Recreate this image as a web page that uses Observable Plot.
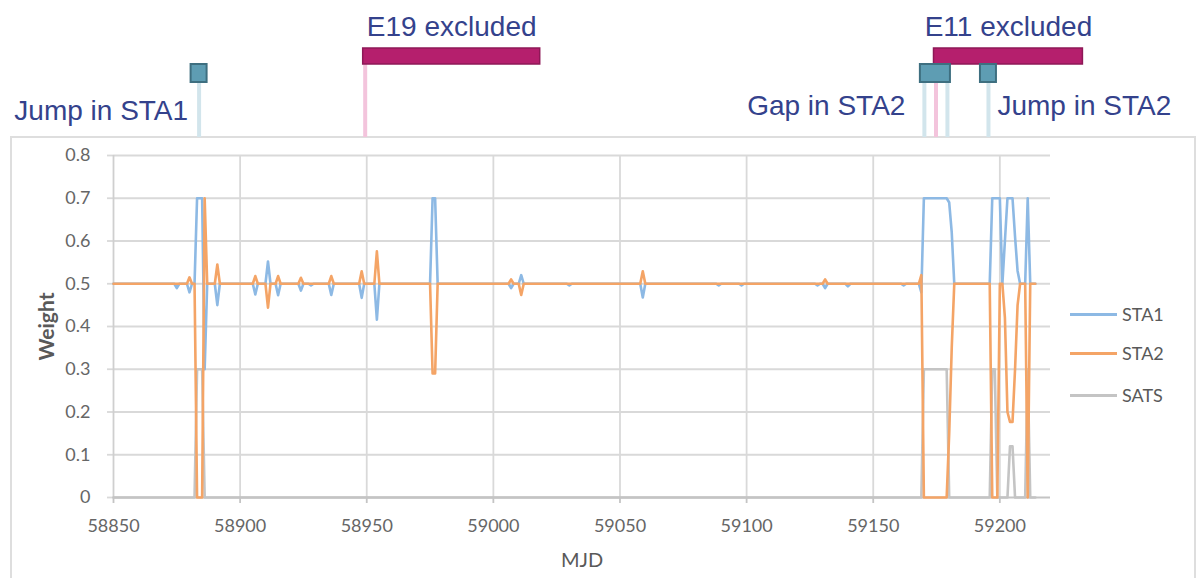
<!DOCTYPE html>
<html>
<head>
<meta charset="utf-8">
<script src="https://cdn.jsdelivr.net/npm/d3@7"></script>
<script src="https://cdn.jsdelivr.net/npm/@observablehq/plot@0.6"></script>
<style>
  html, body { margin: 0; padding: 0; background: #fff; }
  #wrap { position: relative; width: 1202px; height: 578px; overflow: hidden; }
  #frame { position: absolute; left: 10px; top: 136px; width: 1186px; height: 470px; border: 2px solid #dedede; box-sizing: border-box; }
  #chart { position: absolute; left: 0; top: 0; }
  #legend { position: absolute; left: 0; top: 0; font-family: Lato, "Open Sans", sans-serif; font-size: 18px; color: #595959; }
  .lg { position: absolute; left: 1070px; height: 24px; display: flex; align-items: center; white-space: nowrap; }
  .lg span.sw { display: inline-block; width: 47px; height: 3px; margin-right: 5px; }
</style>
</head>
<body>
<div id="wrap"><div id="frame"></div><div id="chart"></div><div id="legend"></div></div>
<script>
// ---------------- data ----------------
const xTicks = [58850, 58900, 58950, 59000, 59050, 59100, 59150, 59200];
const yTicks = [0, 0.1, 0.2, 0.3, 0.4, 0.5, 0.6, 0.7, 0.8];

const seriesNames = ["STA1", "STA2", "SATS"];

// STA1 weight (vertices of the plotted line)
const sta1Mjd = [58850,58874,58875,58876,58879,58880,58881,58882,58883,58885,58886,58887,
  58890,58891,58892,58905,58906,58907,58910,58911,58912,58914,58915,58916,58923,58924,58925,
  58927,58928,58929,58935,58936,58937,58947,58948,58949,58953,58954,58955,58975,58976,58977,58978,
  59006,59007,59008,59010,59011,59012,59029,59030,59031,59058,59059,59060,59088,59089,59090,
  59097,59098,59099,59127,59128,59129,59130,59131,59132,59139,59140,59141,59161,59162,59163,
  59168,59169,59170,59179,59180,59181,59182,59196,59197,59200,59201,59202,59203,59205,59206,59207,59208,
  59210,59211,59212,59214];
const sta1W = [0.5,0.5,0.49,0.5,0.5,0.48,0.5,0.5,0.7,0.7,0.3,0.5,
  0.5,0.45,0.5,0.5,0.475,0.5,0.5,0.552,0.5,0.5,0.473,0.5,0.5,0.484,0.5,
  0.5,0.496,0.5,0.5,0.474,0.5,0.5,0.467,0.5,0.5,0.416,0.5,0.5,0.7,0.7,0.5,
  0.5,0.49,0.5,0.5,0.52,0.5,0.5,0.496,0.5,0.5,0.468,0.5,0.5,0.496,0.5,
  0.5,0.496,0.5,0.5,0.496,0.5,0.5,0.49,0.5,0.5,0.494,0.5,0.5,0.496,0.5,
  0.5,0.48,0.7,0.7,0.69,0.62,0.5,0.5,0.7,0.7,0.5,0.6,0.7,0.7,0.61,0.53,0.5,
  0.5,0.7,0.5,0.5];

// STA2 weight
const sta2Mjd = [58850,58879,58880,58881,58882,58883,58885,58886,58887,
  58890,58891,58892,58905,58906,58907,58910,58911,58912,58914,58915,58916,58923,58924,58925,
  58935,58936,58937,58947,58948,58949,58953,58954,58955,58975,58976,58977,58978,
  59006,59007,59008,59010,59011,59012,59058,59059,59060,59130,59131,59132,
  59168,59169,59170,59179,59180,59181,59182,59196,59197,59199,59200,59201,59202,59203,59204,59205,
  59206,59207,59208,59210,59211,59212,59214];
const sta2W = [0.5,0.5,0.515,0.5,0.5,0,0,0.7,0.5,
  0.5,0.545,0.5,0.5,0.518,0.5,0.5,0.444,0.5,0.5,0.518,0.5,0.5,0.514,0.5,
  0.5,0.518,0.5,0.5,0.529,0.5,0.5,0.576,0.5,0.5,0.29,0.29,0.5,
  0.5,0.51,0.5,0.5,0.474,0.5,0.5,0.529,0.5,0.5,0.51,0.5,
  0.5,0.52,0,0,0.15,0.35,0.5,0.5,0,0,0.5,0.5,0.42,0.2,0.177,0.177,
  0.3,0.45,0.5,0.5,0,0.5,0.5];

// SATS weight
const satsMjd = [58850,58882,58883,58885,58886,59169,59170,59179,59180,59196,59197,59198,59199,
  59203,59204,59205,59206,59210,59211,59212,59214];
const satsW = [0,0,0.3,0.3,0,0,0.3,0.3,0,0,0.3,0.3,0,0,0.12,0.12,0,0,0.3,0,0];

// annotations
const excludedLabels = ["E19 excluded", "E11 excluded"];
const excludedStart = [58948.6, 59174.0];
const excludedEnd = [59018.5, 59232.8];

const eventLabels = ["Jump in STA1", "Gap in STA2", "Jump in STA2"];
const eventFrom = [58883.8, 59170.2, 59195.5];
const eventTo = [58883.8, 59179.3, 59195.5];

// ---------------- build ----------------
const rows = (mjd, w) => mjd.map((m, i) => ({mjd: m, w: w[i]}));
const sta1 = rows(sta1Mjd, sta1W);
const sta2 = rows(sta2Mjd, sta2W);
const sats = rows(satsMjd, satsW);

const excl = excludedLabels.map((l, i) => ({label: l, start: excludedStart[i], end: excludedEnd[i]}));
const events = eventLabels.map((l, i) => ({label: l, from: eventFrom[i], to: eventTo[i]}));
const eventEdges = events.flatMap(e => e.from === e.to ? [e.from] : [e.from, e.to]);

const colors = {STA1: "#8db9e4", STA2: "#f4a466", SATS: "#c4c4c4"};

const W = 1202, H = 578, ML = 113, MR = 152, MT = 155, MB = 81;
const frameBottom = H - MB;
const annotFont = "Liberation Sans, Arial, sans-serif";
const annotColor = "#34428c";

const chart = Plot.plot({
  width: W, height: H,
  marginLeft: ML, marginRight: MR, marginTop: MT, marginBottom: MB,
  x: {domain: [58850, 59220], label: null},
  y: {domain: [0, 0.8], label: null},
  style: {background: "transparent", fontFamily: "Lato, sans-serif", overflow: "visible"},
  marks: [
    Plot.gridX(xTicks.slice(1), {stroke: "#d9d9d9", strokeOpacity: 1, strokeWidth: 1.8}),
    Plot.gridY(yTicks.slice(1), {stroke: "#d9d9d9", strokeOpacity: 1, strokeWidth: 1.8}),
    Plot.axisY(yTicks, {tickSize: 6, tickPadding: 17, stroke: "#d9d9d9", strokeWidth: 1.8, fill: "#666",
      fontSize: 18, tickFormat: d => d === 0 ? "0" : d.toFixed(1)}),
    Plot.axisX(xTicks, {tickSize: 6, tickPadding: 16, stroke: "#c4c4c4", strokeWidth: 1.8, fill: "#666",
      fontSize: 18, tickFormat: d3.format("d")}),
    Plot.ruleX([58850], {stroke: "#cfcfcf", strokeWidth: 1.8}),
    Plot.ruleY([0], {stroke: "#c4c4c4", strokeWidth: 2}),
    Plot.line(sats, {x: "mjd", y: "w", stroke: colors.SATS, strokeWidth: 2.6}),
    Plot.line(sta1, {x: "mjd", y: "w", stroke: colors.STA1, strokeWidth: 2.6}),
    Plot.line(sta2, {x: "mjd", y: "w", stroke: colors.STA2, strokeWidth: 2.6}),
    // axis titles
    Plot.text(["Weight"], {text: d => d, frameAnchor: "left", textAnchor: "middle", lineAnchor: "middle",
      rotate: -90, dx: -66, fontSize: 21, fontWeight: "bold", fill: "#595959"}),
    Plot.text(["MJD"], {text: d => d, frameAnchor: "bottom", textAnchor: "middle", lineAnchor: "middle",
      dy: 63, fontSize: 20, fill: "#595959"}),
    // annotations above the chart area
    Plot.ruleX(excl, {x: "start", dx: 2, stroke: "#f3c4dc", strokeWidth: 4,
      insetTop: 64 - MT, insetBottom: frameBottom - 137}),
    Plot.rect(excl, {x1: "start", x2: "end", fill: "#b51f6d", stroke: "#8e1857", strokeWidth: 1.5,
      insetTop: 48 - MT, insetBottom: frameBottom - 64}),
    Plot.text(excl, {x: d => (d.start + d.end) / 2, text: "label", frameAnchor: "top", textAnchor: "middle",
      lineAnchor: "bottom", dy: 35 - MT, fontSize: 28, fontFamily: annotFont, fill: annotColor}),
    Plot.ruleX(eventEdges, {x: d => d, stroke: "#d2e5ec", strokeWidth: 4,
      insetTop: 82 - MT, insetBottom: frameBottom - 137}),
    Plot.rect(events.filter(e => e.from === e.to), {x1: "from", x2: "to", insetLeft: -8, insetRight: -8,
      fill: "#5e9db3", stroke: "#3e6f80", strokeWidth: 2, insetTop: 64 - MT, insetBottom: frameBottom - 82}),
    Plot.rect(events.filter(e => e.from !== e.to), {x1: "from", x2: "to", insetLeft: -4, insetRight: -3,
      fill: "#5e9db3", stroke: "#3e6f80", strokeWidth: 2, insetTop: 64 - MT, insetBottom: frameBottom - 82}),
    Plot.text([events[0]], {x: "from", text: "label", frameAnchor: "top", textAnchor: "end", lineAnchor: "bottom",
      dx: -11, dy: 119 - MT, fontSize: 28, fontFamily: annotFont, fill: annotColor}),
    Plot.text([events[1]], {x: "from", text: "label", frameAnchor: "top", textAnchor: "end", lineAnchor: "bottom",
      dx: -19, dy: 114 - MT, fontSize: 28, fontFamily: annotFont, fill: annotColor}),
    Plot.text([events[2]], {x: "to", text: "label", frameAnchor: "top", textAnchor: "start", lineAnchor: "bottom",
      dx: 9, dy: 114 - MT, fontSize: 28, fontFamily: annotFont, fill: annotColor})
  ]
});
document.getElementById("chart").appendChild(chart);

// legend
const legendTops = [314, 353, 395];
const lg = document.getElementById("legend");
seriesNames.forEach((name, i) => {
  const row = document.createElement("div");
  row.className = "lg";
  row.style.top = (legendTops[i] - 12) + "px";
  const sw = document.createElement("span");
  sw.className = "sw";
  sw.style.background = colors[name];
  row.appendChild(sw);
  row.appendChild(document.createTextNode(name));
  lg.appendChild(row);
});
</script>
</body>
</html>
